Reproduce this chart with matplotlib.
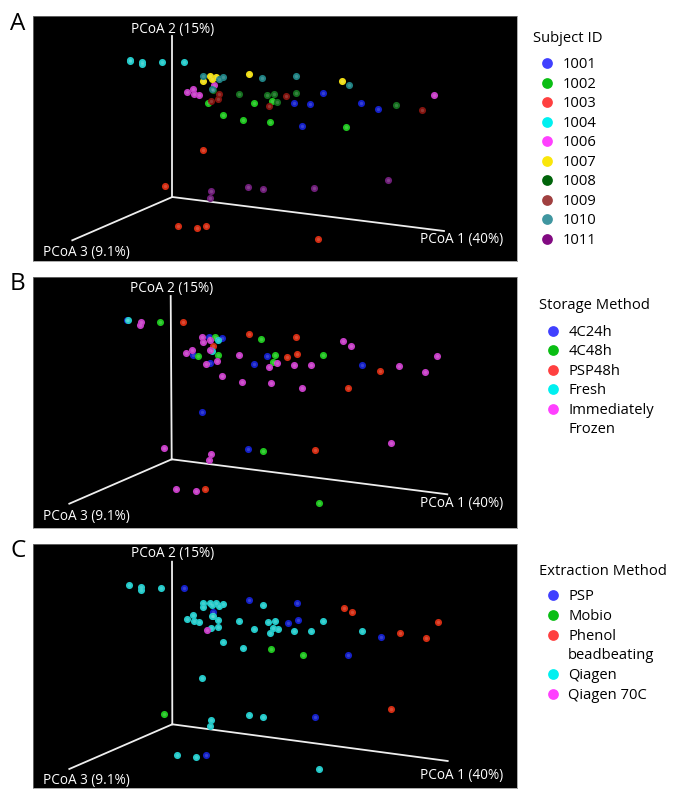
import matplotlib
matplotlib.use("Agg")
import matplotlib.pyplot as plt

plt.rcParams["font.family"] = ["Open Sans", "DejaVu Sans"]

# values, in image pixels (x, y)
a_1001 = [(293.7, 103.3), (310.3, 103.7), (322.7, 93.3), (360.7, 103.3), (378.3, 109), (302, 126.3)]
a_1002 = [(207.7, 102.7), (222.7, 114.7), (242.7, 120.3), (253.7, 102.7), (272.3, 100.7), (270.3, 121.7), (346, 127)]
a_1003 = [(202.7, 150.3), (165, 185.7), (177.7, 225.7), (197, 227.7), (206, 225.7), (317.7, 239)]
a_1004 = [(129.7, 59.7), (130.3, 60.7), (142.3, 61.7), (142, 64.3), (162, 62), (184.3, 62)]
a_1006 = [(187.3, 92), (193, 89), (194, 94), (198.7, 95), (213.7, 85.3), (434, 94.7)]
a_1007 = [(209.7, 76.3), (215.7, 77), (211.7, 79), (203.3, 81.3), (248.7, 73.7), (341.7, 80.7)]
a_1008 = [(213, 89.7), (239, 94.3), (266.7, 95), (274.3, 94.3), (277.3, 102.3), (296.3, 93.3), (396.3, 105)]
a_1009 = [(218.7, 94), (217.7, 99.3), (211.3, 101), (286.3, 95.7), (269, 106.3), (422, 110)]
a_1010 = [(203.3, 76), (219.3, 79.3), (223, 77.3), (211.7, 89), (261.7, 78.3), (296, 76), (349, 85.3)]
a_1011 = [(211.3, 191), (210, 197.7), (248.3, 187), (262.7, 188.7), (314, 188), (388, 180.3)]

b_4c24 = [(126.7, 320), (209, 337.3), (222.3, 338), (192.7, 354.7), (253.7, 363.7), (210.3, 362.7),
          (201.7, 412), (248.3, 449.3), (266.7, 356), (361.7, 364.7)]
b_4c48 = [(160, 322), (215, 337.3), (197.7, 355.7), (218, 354.7), (260.7, 339), (263, 451.3),
          (274.7, 355), (323, 354.7), (272.7, 361.7), (318.7, 502.7)]
b_psp48 = [(182.7, 322.3), (212.7, 346), (248.7, 334.3), (205.3, 488.7), (296.3, 336.7), (287, 356.7),
           (297, 354.3), (380.3, 370.7), (347.7, 388.3), (315, 450.3)]
b_fresh = [(127.7, 320.3), (218, 339.7), (212.3, 350.7)]
b_frozen = [(141, 322), (140, 324.7), (202.3, 337), (202.7, 342), (210.3, 339.7), (210.3, 349.7),
            (186, 352.7), (192, 350), (238.7, 355.3), (206.3, 363.7), (216.7, 361), (222, 376),
            (242.3, 381.7), (163.7, 448), (211, 453.7), (209, 460.3), (176.3, 488.7), (196.3, 491),
            (343, 341.3), (350.7, 346), (437.3, 355.7), (277.3, 363.3), (269, 367.3), (293.7, 365),
            (310.7, 365), (399, 366), (425, 371.7), (270.7, 383), (302.3, 388.3), (390.7, 442.7)]

c_psp = [(183.7, 588), (249.3, 600.3), (213, 611.7), (205.7, 754.7), (297.3, 602.7), (287.7, 623),
         (298, 620.3), (380.7, 637), (348.3, 654.7), (315.3, 716.7)]
c_mobio = [(164, 713.7), (271, 649), (302.7, 654.7)]
c_phenol = [(344, 607.7), (351.7, 612.3), (438, 622.3), (399.7, 632.7), (426, 638.3), (391.3, 709.3)]
c_qiagen = [(128.7, 585), (141.3, 587.3), (141, 590), (161, 588), (203, 602.7), (203.3, 607.3), (210, 603),
            (211.7, 605.3), (215.7, 603.3), (218.7, 606), (223.3, 603.7), (211.7, 615.7), (212.7, 616),
            (186.7, 618.7), (193, 615.3), (194, 620.7), (198.7, 621.7), (218.3, 620.3), (239.3, 621),
            (254, 629.3), (211, 628.3), (217.7, 626.7), (223, 641.7), (243, 647.7), (202.3, 678),
            (211.3, 719.7), (209.7, 726.3), (248.7, 715.3), (176.7, 754.7), (196.3, 756.7), (262.7, 605),
            (267.7, 622), (275.3, 621), (273.3, 627.7), (277.7, 629.3), (269.7, 633.3), (293.7, 631.3),
            (311, 631.3), (323.3, 621), (362, 631.3), (263.3, 717.3), (318.7, 769)]
c_qiagen70 = [(206.7, 629.7)]

subject_labels = ["1001", "1002", "1003", "1004", "1006", "1007", "1008", "1009", "1010", "1011"]
storage_labels = ["4C24h", "4C48h", "PSP48h", "Fresh", "Immediately\nFrozen"]
extraction_labels = ["PSP", "Mobio", "Phenol\nbeadbeating", "Qiagen", "Qiagen 70C"]

# point colour, legend colour
BLUE = ("#1420c8", "#4040ff")
GREEN = ("#1ec31e", "#0abe14")
RED = ("#d22c12", "#ff4040")
CYAN = ("#22c8c8", "#00f0f0")
MAGENTA = ("#c43cc4", "#ff40ff")
YELLOW = ("#eedc14", "#fae60a")
DKGREEN = ("#146e1e", "#00640a")
DKRED = ("#82140f", "#a04040")
TEAL = ("#1e8082", "#4096a0")
PURPLE = ("#6e1e78", "#820a82")

panels = [
    dict(letter="A", y0=16, y1=261, letter_y=24,
         series=[a_1001, a_1002, a_1003, a_1004, a_1006, a_1007, a_1008, a_1009, a_1010, a_1011],
         colors=[BLUE, GREEN, RED, CYAN, MAGENTA, YELLOW, DKGREEN, DKRED, TEAL, PURPLE],
         origin=(172.3, 197), top=(172.3, 36), left=(72.3, 240.3), right=(444, 231),
         y2_lab=28.3, y3_lab=251.5, y1_lab=238.3,
         title="Subject ID", labels=subject_labels, title_x=533, title_y=37, row_y=63.3, dot_x=546.7, row=19.5),
    dict(letter="B", y0=277, y1=528, letter_y=284,
         series=[b_4c24, b_4c48, b_psp48, b_fresh, b_frozen],
         colors=[BLUE, GREEN, RED, CYAN, MAGENTA],
         origin=(171.7, 459.3), top=(170.7, 296), left=(69.3, 503.7), right=(447.3, 494.3),
         y2_lab=287.3, y3_lab=515, y1_lab=502,
         title="Storage Method", labels=storage_labels, title_x=539, title_y=304, row_y=330.7, dot_x=553.3, row=19.5),
    dict(letter="C", y0=544, y1=788, letter_y=551,
         series=[c_psp, c_mobio, c_phenol, c_qiagen, c_qiagen70],
         colors=[BLUE, GREEN, RED, CYAN, MAGENTA],
         origin=(172.3, 724.3), top=(172, 561.7), left=(69.3, 769), right=(447.7, 761),
         y2_lab=553, y3_lab=779, y1_lab=774,
         title="Extraction Method", labels=extraction_labels, title_x=539, title_y=570, row_y=595, dot_x=552.7, row=19.8),
]

W, H = 685, 810
X0, X1 = 33, 517

fig = plt.figure(figsize=(W / 100, H / 100), dpi=100)

# full figure layer for panel letters and legends
over = fig.add_axes([0, 0, 1, 1], zorder=5)
over.set_xlim(0, W)
over.set_ylim(H, 0)
over.axis("off")

for p in panels:
    ax = fig.add_axes([X0 / W, 1 - p["y1"] / H, (X1 - X0) / W, (p["y1"] - p["y0"]) / H], facecolor="black")
    ax.set_xlim(X0, X1)
    ax.set_ylim(p["y1"], p["y0"])
    ax.set_xticks([])
    ax.set_yticks([])
    for s in ax.spines.values():
        s.set_color("#888888")
        s.set_linewidth(0.5)

    # the three axis lines
    for end in (p["top"], p["left"], p["right"]):
        ax.plot([p["origin"][0], end[0]], [p["origin"][1], end[1]], color="#eeeeee", lw=1.3, zorder=1)

    ax.text(p["top"][0] + 0.5, p["y2_lab"] + 4.5, "PCoA 2 (15%)", color="white", fontsize=9.8, ha="center", va="baseline")
    ax.text(86, p["y3_lab"] + 4.5, "PCoA 3 (9.1%)", color="white", fontsize=9.8, ha="center", va="baseline")
    ax.text(462, p["y1_lab"] + 4.5, "PCoA 1 (40%)", color="white", fontsize=9.8, ha="center", va="baseline")

    # points, with a small highlight so that they look like spheres
    for pts, col in zip(p["series"], p["colors"]):
        xs = [q[0] for q in pts]
        ys = [q[1] for q in pts]
        ax.scatter(xs, ys, s=26, color=col[0], linewidths=0, zorder=3)
        ax.scatter(xs, ys, s=6, color="white", alpha=0.15, linewidths=0, zorder=4)

    over.text(18, p["letter_y"], p["letter"], fontsize=17.5, ha="center", va="center")
    over.text(p["title_x"], p["title_y"] + 5, p["title"], fontsize=10.6, ha="left", va="baseline")

    # legend rows, a wrapped label takes two rows
    y = p["row_y"]
    for lab, col in zip(p["labels"], p["colors"]):
        over.scatter([p["dot_x"]], [y], s=60, color=col[1], linewidths=0)
        for line in lab.split("\n"):
            over.text(p["dot_x"] + 15.5, y + 5, line, fontsize=10.6, ha="left", va="baseline")
            y += p["row"]

fig.savefig("out.png", dpi=100)
